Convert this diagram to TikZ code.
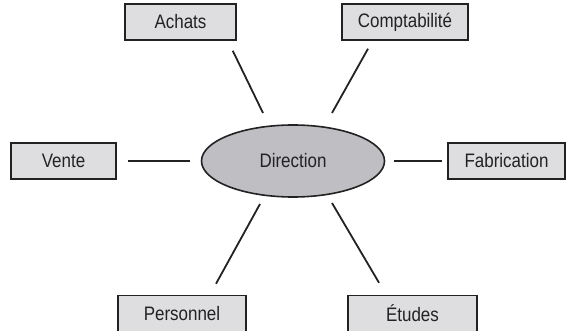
\documentclass[tikz,border=0pt]{standalone}
\usepackage{fontspec}
\setmainfont{Liberation Sans}[FakeStretch=0.87]
\usepackage{xcolor}
\usetikzlibrary{calc, shadows, shapes.geometric, positioning}

\definecolor{boxgray}{RGB}{222,222,224}
\definecolor{ovalgray}{RGB}{190,190,195}
\definecolor{inkgray}{RGB}{34,34,34}

\begin{document}
\begin{tikzpicture}[x=1pt, y=-1pt,
        every node/.style={font=\fontsize{19.5}{22}\selectfont, text=inkgray},
        service/.style={rectangle, draw=inkgray, line width=1.5pt, fill=boxgray, minimum height=36pt, inner sep=0pt,
            drop shadow={shadow xshift=1.3pt, shadow yshift=-1.3pt, fill=inkgray, opacity=1}},
        centre/.style={ellipse, draw=inkgray, line width=1.6pt, fill=ovalgray, minimum width=183pt, minimum height=72pt, inner sep=0pt},
        link/.style={draw=inkgray, line width=1.8pt}
    ]
        \useasboundingbox (0,0) rectangle (569,331);

        \node (direction) [centre] at (293,161) {Direction};
        \node (achats) [service, minimum width=111pt] at (180.5,22) {Achats};
        \node (compta) [service, minimum width=126pt] at (405,22) {Comptabilité};
        \node (vente) [service, minimum width=105pt] at (63.5,161) {Vente};
        \node (fabrication) [service, minimum width=117pt] at (506.5,161) {Fabrication};
        \node (personnel) [service, minimum width=128pt] at (182,313.5) {Personnel};
        \node (etudes) [service, minimum width=129pt] at (412.5,313.5) {Études};

        \draw [link] ($(achats.south east)+(-4,10)$) -- ($(direction.center)+(-30,-48)$);
        \draw [link] ($(compta.south)+(-37,8)$) -- ($(direction.center)+(39,-48)$);
        \draw [link, shorten <=11pt, shorten >=11pt] (vente) -- (direction);
        \draw [link, shorten <=9pt, shorten >=5pt] (direction) -- (fabrication);
        \draw [link] ($(direction.center)+(-33,43)$) -- ($(personnel.north)+(34,-11)$);
        \draw [link] ($(direction.center)+(39,42)$) -- ($(etudes.north)+(-33.5,-12)$);
    \end{tikzpicture}
\end{document}
